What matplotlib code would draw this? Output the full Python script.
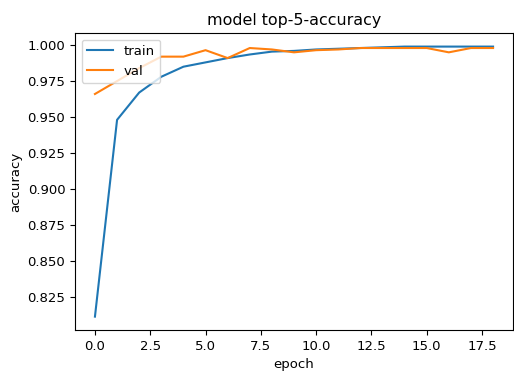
import matplotlib
matplotlib.use('Agg')
import matplotlib.pyplot as plt

epochs = list(range(19))
train_acc = [0.811, 0.948, 0.967, 0.978, 0.985, 0.988, 0.991, 0.9935, 0.9955, 0.996,
             0.997, 0.9975, 0.998, 0.9985, 0.999, 0.999, 0.999, 0.999, 0.999]
val_acc = [0.966, 0.975, 0.984, 0.992, 0.992, 0.9965, 0.991, 0.998, 0.997, 0.995,
           0.9965, 0.997, 0.998, 0.998, 0.998, 0.998, 0.995, 0.998, 0.998]

plt.rcParams['font.size'] = 9.5

fig = plt.figure(figsize=(5.14, 3.76), dpi=100)
ax = fig.add_axes([0.146, 0.122, 0.852, 0.79])
ax.plot(epochs, train_acc, label='train')
ax.plot(epochs, val_acc, label='val')
ax.set_title('model top-5-accuracy')
ax.set_ylabel('accuracy')
ax.set_xlabel('epoch')
ax.legend(loc='upper left')
fig.savefig('out.png', dpi=100)
